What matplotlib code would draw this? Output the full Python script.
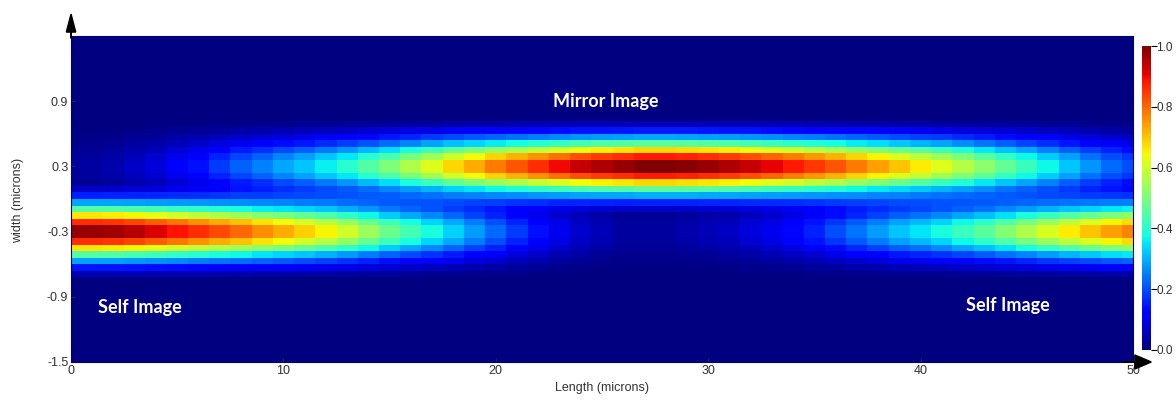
import matplotlib
matplotlib.use("Agg")
import matplotlib.pyplot as plt
import numpy as np

# centre-row intensity of each lobe, read at every micron along the length (0..50)
length_um = np.arange(0, 51)
lower_lobe = [0.98, 0.98, 0.97, 0.95, 0.92, 0.89, 0.86, 0.83, 0.80, 0.76,
              0.73, 0.69, 0.65, 0.60, 0.54, 0.48, 0.43, 0.38, 0.33, 0.28,
              0.23, 0.18, 0.14, 0.10, 0.07, 0.05, 0.03, 0.03, 0.03, 0.04,
              0.05, 0.06, 0.08, 0.10, 0.13, 0.16, 0.20, 0.24, 0.28, 0.32,
              0.35, 0.38, 0.42, 0.46, 0.51, 0.56, 0.61, 0.66, 0.70, 0.74,
              0.77]
upper_lobe = [0.03, 0.03, 0.04, 0.06, 0.08, 0.11, 0.14, 0.18, 0.22, 0.25,
              0.29, 0.32, 0.36, 0.40, 0.45, 0.50, 0.56, 0.62, 0.68, 0.73,
              0.78, 0.82, 0.86, 0.90, 0.94, 0.96, 0.98, 1.00, 1.00, 0.99,
              0.98, 0.96, 0.94, 0.91, 0.88, 0.85, 0.82, 0.78, 0.74, 0.70,
              0.66, 0.62, 0.57, 0.52, 0.47, 0.42, 0.37, 0.32, 0.27, 0.23,
              0.20]

# relative lateral profile of a lobe, rows at 0.03, 0.09, ... microns from its centre
profile_offsets = [0.03, 0.09, 0.15, 0.21, 0.27, 0.33, 0.39]
profile_values = [1.00, 0.88, 0.68, 0.46, 0.29, 0.15, 0.05]
lobe_centres = [-0.3, 0.3]

# build the intensity table
y_edges = np.linspace(-1.5, 1.5, 51)
y_mid = (y_edges[:-1] + y_edges[1:]) / 2
x_edges = np.concatenate([[0], length_um[:-1] + 0.5, [50]])

def lateral(centre):
    col = np.zeros(len(y_mid))
    for i, yv in enumerate(y_mid):
        d = abs(yv - centre)
        for off, val in zip(profile_offsets, profile_values):
            if abs(d - off) < 0.01:
                col[i] = val
    return col

Z = (np.outer(lateral(lobe_centres[0]), lower_lobe)
     + np.outer(lateral(lobe_centres[1]), upper_lobe))

narrow = ['Liberation Sans Narrow', 'Liberation Sans', 'DejaVu Sans']
fig = plt.figure(figsize=(11.76, 4.01), dpi=100)
ax = fig.add_axes([0.0604, 0.0973, 0.903, 0.8129])
mesh = ax.pcolormesh(x_edges, y_edges, Z, cmap='jet', vmin=0, vmax=1)
ax.set_xlim(0, 50)
ax.set_ylim(-1.5, 1.5)
ax.set_xticks([0, 10, 20, 30, 40, 50])
ax.set_yticks([-1.5, -0.9, -0.3, 0.3, 0.9])
ax.set_yticklabels(['-1.5', '-0.9', '-0.3', '0.3', '0.9'])
ax.tick_params(direction='in', length=3, width=0.6, color='#333333',
               labelsize=9, labelcolor='#333333', pad=2)
for lab in ax.get_xticklabels() + ax.get_yticklabels():
    lab.set_family(narrow)
for s in ax.spines.values():
    s.set_color('#000066')
    s.set_linewidth(0.8)

ax.set_xlabel('Length (microns)', fontsize=9, color='#333333', labelpad=4,
              family=['Liberation Sans', 'DejaVu Sans'])
fig.text(18 / 1176, 1 - 200 / 401, 'width (microns)', rotation=90, fontsize=9,
         color='#333333', ha='center', va='center',
         family=['Liberation Sans', 'DejaVu Sans'])

lbl = dict(color='white', fontsize=13, fontweight='bold', ha='center', va='center',
           family=['Lato', 'DejaVu Sans'])
ax.text(25.2, 0.9, 'Mirror Image', **lbl)
ax.text(3.25, -1.0, 'Self Image', **lbl)
ax.text(44.1, -0.98, 'Self Image', **lbl)

# arrows on the axes
fig.patches.append(matplotlib.patches.FancyArrow(
    0.0604, 0.905, 0, 0.06, width=0.0005, head_width=0.008, head_length=0.045,
    length_includes_head=True, color='black', transform=fig.transFigure))
fig.patches.append(matplotlib.patches.FancyArrow(
    0.955, 0.0973, 0.024, 0, width=0.001, head_width=0.035, head_length=0.014,
    length_includes_head=True, color='black', transform=fig.transFigure))

cax = fig.add_axes([0.971, 0.1272, 0.0077, 0.758])
cb = fig.colorbar(mesh, cax=cax, ticks=[0, 0.2, 0.4, 0.6, 0.8, 1.0])
cb.ax.set_yticklabels(['0.0', '0.2', '0.4', '0.6', '0.8', '1.0'])
cb.ax.tick_params(length=4, width=0.8, color='black', labelsize=8.5,
                  labelcolor='#333333', pad=0)
for lab in cb.ax.get_yticklabels():
    lab.set_family(narrow)
cb.outline.set_visible(False)

fig.savefig('out.png', dpi=100)
